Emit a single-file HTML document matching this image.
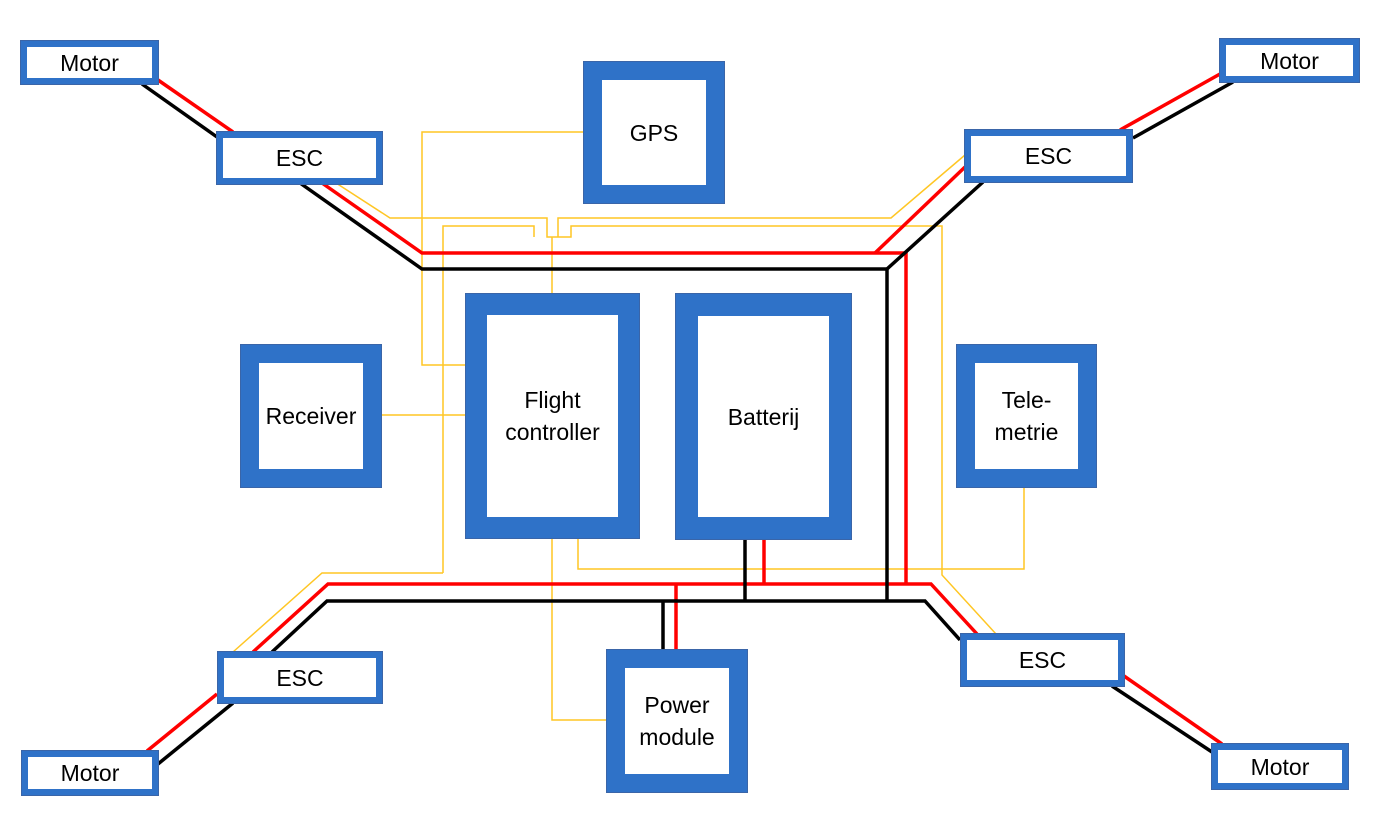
<!DOCTYPE html>
<html><head><meta charset="utf-8"><style>
html,body{margin:0;padding:0;background:#fff;}
body{width:1386px;height:824px;overflow:hidden;position:relative;font-family:"Liberation Sans",sans-serif;}
svg{position:absolute;left:0;top:0;}
.b{position:absolute;background:#fff;box-sizing:border-box;border-style:solid;border-color:#2f72c8;outline:1px solid #3a65a8;display:flex;align-items:center;justify-content:center;text-align:center;color:#000;font-size:23px;line-height:32px;}
</style></head><body>
<svg width="1386" height="824" viewBox="0 0 1386 824">
<g fill="none" stroke="#ffc624" stroke-width="1.5">
<polyline points="584,132 422,132 422,365 466,365"/>
<polyline points="381,415 466,415"/>
<polyline points="336,183 390,218 547,218 547,237 571,237 571,226 942,226 942,575 996,634"/>
<polyline points="443,573 443,226 534,226 534,237"/>
<polyline points="558,237 558,218 891,218 965,155"/>
<polyline points="552,237 552,295"/>
<polyline points="443,573 322,573 233,652"/>
<polyline points="578,538 578,569 1024,569 1024,487"/>
<polyline points="552,538 552,720 607,720"/>
</g>
<g fill="none" stroke="#ff0000" stroke-width="3.5">
<line x1="158" y1="80" x2="233" y2="132"/>
<polyline points="322,183 422,253 906,253 906,583"/>
<line x1="875" y1="253" x2="965" y2="167"/>
<line x1="1120" y1="130" x2="1220" y2="74"/>
<polyline points="253,652 328,584 931,584 977,634"/>
<line x1="764" y1="540" x2="764" y2="584"/>
<line x1="676" y1="584" x2="676" y2="650"/>
<line x1="217" y1="694" x2="147" y2="751"/>
<line x1="1124" y1="676" x2="1222" y2="744"/>
</g>
<g fill="none" stroke="#000" stroke-width="3.5">
<line x1="142" y1="84" x2="217" y2="137"/>
<polyline points="300,183 422,269 887,269 887,601"/>
<line x1="887" y1="269" x2="983" y2="182"/>
<line x1="1133" y1="138" x2="1233" y2="82"/>
<polyline points="272,652 327,601 925,601 960,640"/>
<line x1="745" y1="540" x2="745" y2="601"/>
<line x1="663" y1="601" x2="663" y2="650"/>
<line x1="233" y1="703" x2="158" y2="764"/>
<line x1="1112" y1="686" x2="1212" y2="752"/>
</g>
</svg>
<div class="b" style="left:21px;top:41px;width:137px;height:43px;border-width:6px;">Motor</div>
<div class="b" style="left:217px;top:132px;width:165px;height:52px;border-width:6px;">ESC</div>
<div class="b" style="left:1220px;top:39px;width:139px;height:43px;border-width:6px;">Motor</div>
<div class="b" style="left:965px;top:130px;width:167px;height:52px;border-width:6px;">ESC</div>
<div class="b" style="left:218px;top:652px;width:164px;height:51px;border-width:6px;">ESC</div>
<div class="b" style="left:22px;top:751px;width:136px;height:44px;border-width:6px;">Motor</div>
<div class="b" style="left:961px;top:634px;width:163px;height:52px;border-width:6px;">ESC</div>
<div class="b" style="left:1212px;top:744px;width:136px;height:45px;border-width:6px;">Motor</div>
<div class="b" style="left:584px;top:62px;width:140px;height:141px;border-width:18px;">GPS</div>
<div class="b" style="left:466px;top:294px;width:173px;height:244px;border-width:21px;">Flight<br>controller</div>
<div class="b" style="left:676px;top:294px;width:175px;height:245px;border-width:22px;">Batterij</div>
<div class="b" style="left:241px;top:345px;width:140px;height:142px;border-width:18px;">Receiver</div>
<div class="b" style="left:957px;top:345px;width:139px;height:142px;border-width:18px;">Tele-<br>metrie</div>
<div class="b" style="left:607px;top:650px;width:140px;height:142px;border-width:18px;">Power<br>module</div>
</body></html>
